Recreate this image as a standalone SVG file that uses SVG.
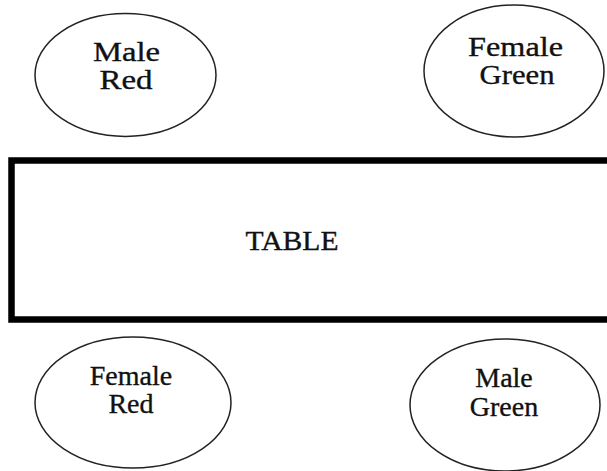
<svg xmlns="http://www.w3.org/2000/svg" width="607" height="471" viewBox="0 0 607 471">
<style>
.seat{fill:none;stroke:#222;stroke-width:1.5}
.lbl{font-family:"Liberation Serif","Times New Roman",serif;fill:#111;stroke:#111;stroke-width:0.35;text-anchor:middle;font-size:28px}
</style>
<rect width="607" height="471" fill="#fff"/>
<g id="connectors"></g>
<g id="table">
<rect x="11.5" y="160.5" width="620" height="159" fill="#fff" stroke="#000" stroke-width="6.5"/>
<text class="lbl" x="292" y="250" textLength="93" lengthAdjust="spacingAndGlyphs">TABLE</text>
</g>
<g id="male-red">
<ellipse class="seat" cx="125.5" cy="75" rx="90.5" ry="61.5"/>
<text class="lbl" x="126.5" y="61" textLength="67" lengthAdjust="spacingAndGlyphs">Male</text>
<text class="lbl" x="126" y="89" textLength="53" lengthAdjust="spacingAndGlyphs">Red</text>
</g>
<g id="female-green">
<ellipse class="seat" cx="514" cy="71" rx="90" ry="66"/>
<text class="lbl" x="515.5" y="56" textLength="95" lengthAdjust="spacingAndGlyphs">Female</text>
<text class="lbl" x="517" y="84" textLength="75" lengthAdjust="spacingAndGlyphs">Green</text>
</g>
<g id="female-red">
<ellipse class="seat" cx="133" cy="402.5" rx="98" ry="65.5"/>
<text class="lbl" x="131" y="385">Female</text>
<text class="lbl" x="131" y="413">Red</text>
</g>
<g id="male-green">
<ellipse class="seat" cx="505" cy="405" rx="95" ry="66"/>
<text class="lbl" x="504" y="387">Male</text>
<text class="lbl" x="504" y="416">Green</text>
</g>
</svg>
